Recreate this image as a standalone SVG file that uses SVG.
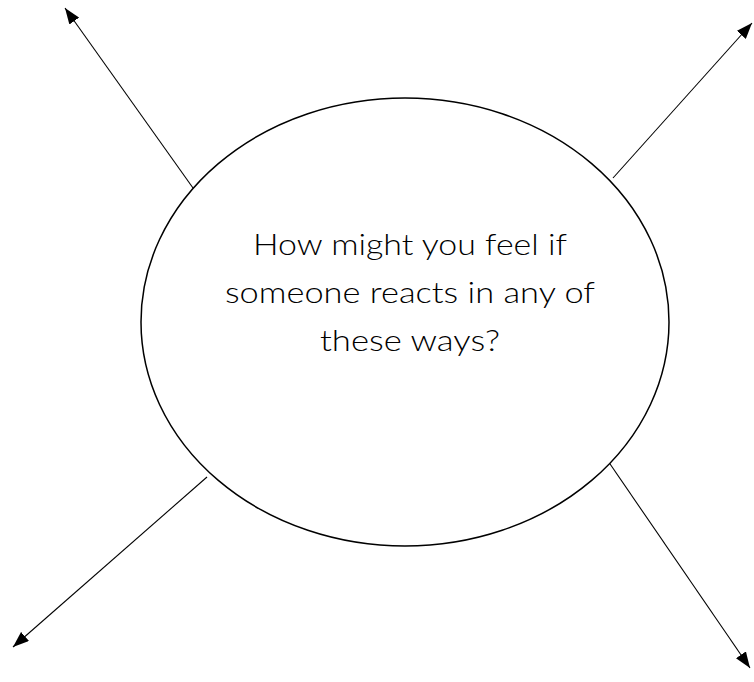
<svg xmlns="http://www.w3.org/2000/svg" width="754" height="682" viewBox="0 0 754 682">
  <style>
    .conn { stroke: #000; stroke-width: 1.1; fill: none; marker-end: url(#arrow); }
    .shape { fill: #fff; stroke: #000; stroke-width: 1.5; }
    .label { font-family: Lato, "Open Sans", "Liberation Sans", sans-serif; font-weight: 300; font-size: 30px; fill: #000; text-anchor: middle; }
  </style>
  <defs>
    <marker id="arrow" markerUnits="userSpaceOnUse" markerWidth="16" markerHeight="12" refX="16" refY="6" orient="auto">
      <path d="M0,0 L16,6 L0,12 z" fill="#000"/>
    </marker>
  </defs>
  <rect width="754" height="682" fill="#fff"/>
  <g id="connectors">
    <line class="conn" x1="193" y1="188" x2="65" y2="8"/>
    <line class="conn" x1="613" y1="178" x2="752" y2="23"/>
    <line class="conn" x1="207" y1="477" x2="13" y2="647"/>
    <line class="conn" x1="608" y1="461" x2="750" y2="668"/>
  </g>
  <g id="center-node">
    <ellipse class="shape" cx="405" cy="322" rx="264" ry="224"/>
    <text class="label" x="410" y="255" textLength="314" lengthAdjust="spacingAndGlyphs">How might you feel if</text>
    <text class="label" x="410" y="303" textLength="370" lengthAdjust="spacingAndGlyphs">someone reacts in any of</text>
    <text class="label" x="410" y="351" textLength="180" lengthAdjust="spacingAndGlyphs">these ways?</text>
  </g>
</svg>
